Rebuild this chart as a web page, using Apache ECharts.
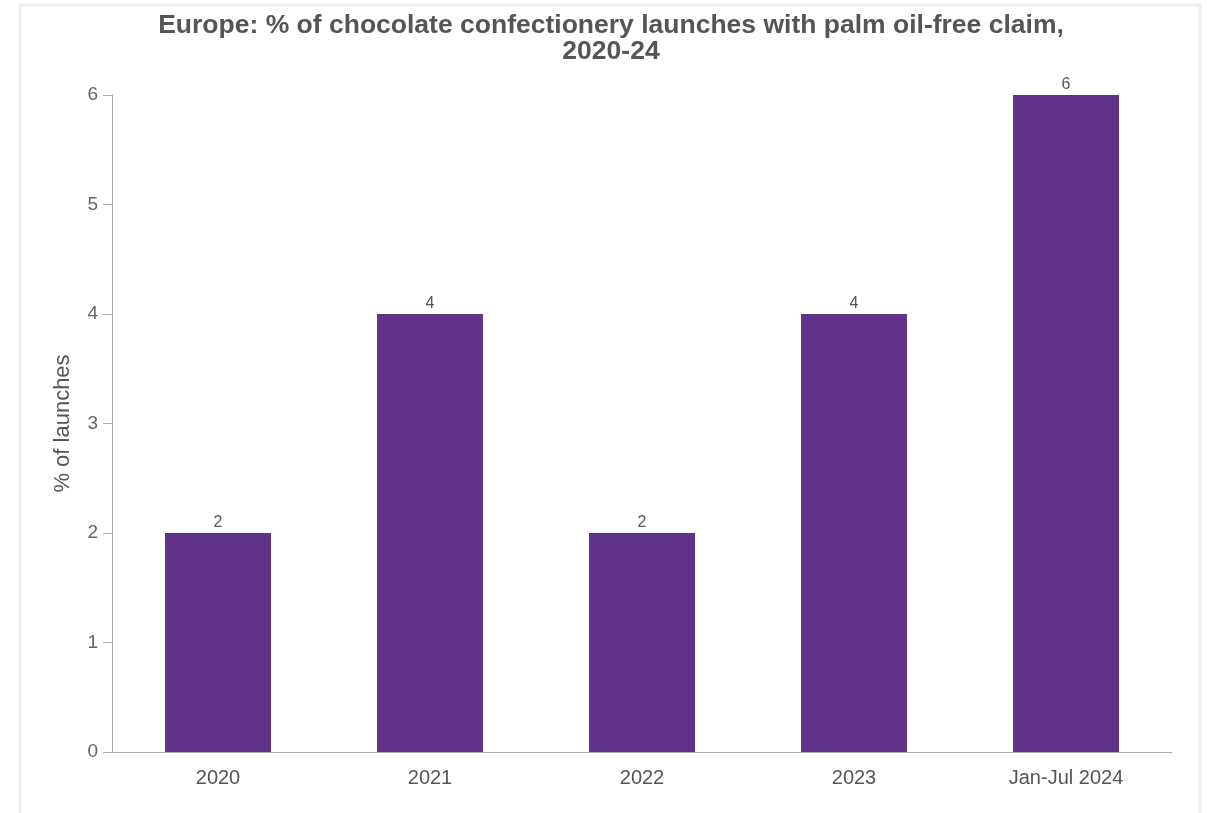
<!DOCTYPE html>
<html>
<head>
<meta charset="utf-8">
<title>Palm oil-free claim</title>
<script src="https://cdn.jsdelivr.net/npm/echarts@6/dist/echarts.min.js"></script>
<style>
  html, body { margin: 0; padding: 0; background: #fff; }
  #chart { width: 1207px; height: 813px; }
</style>
</head>
<body>
<div id="chart"></div>
<script>
const categories = ['2020', '2021', '2022', '2023', 'Jan-Jul 2024']
const launchShare = [2, 4, 2, 4, 6]
const yTicks = [0, 1, 2, 3, 4, 5, 6]

const textColor = '#555'
const axisColor = '#aaa'
const font = 'Arial, Liberation Sans, sans-serif'

const chart = echarts.init(document.getElementById('chart'))

chart.setOption({
  animation: false,
  title: {
    text: 'Europe: % of chocolate confectionery launches with palm oil-free claim,\n2020-24',
    left: 606,
    top: 8,
    textAlign: 'center',
    textStyle: {
      fontFamily: font,
      fontSize: 26.5,
      fontWeight: 'bold',
      color: textColor,
      lineHeight: 26
    }
  },
  graphic: [{
    type: 'rect',
    shape: { x: 20, y: 5, width: 1180, height: 830 },
    style: { fill: 'none', stroke: '#eee', lineWidth: 3 },
    silent: true
  }],
  grid: {
    left: 112,
    right: 35,
    top: 95,
    bottom: 61
  },
  xAxis: {
    type: 'category',
    data: categories,
    axisLine: { lineStyle: { color: axisColor } },
    axisTick: { length: 8, lineStyle: { color: axisColor } },
    axisLabel: {
      color: textColor,
      fontSize: 20,
      fontFamily: font,
      margin: 16
    }
  },
  yAxis: {
    type: 'value',
    min: yTicks[0],
    max: yTicks[yTicks.length - 1],
    interval: 1,
    name: '% of launches',
    nameLocation: 'middle',
    nameGap: 38,
    nameTextStyle: {
      color: textColor,
      fontSize: 22,
      fontFamily: font
    },
    axisLine: { show: true, lineStyle: { color: axisColor } },
    axisTick: { show: true, length: 9, lineStyle: { color: axisColor } },
    splitLine: { show: false },
    axisLabel: {
      color: '#666',
      fontSize: 19,
      fontFamily: font,
      margin: 14
    }
  },
  series: [{
    type: 'bar',
    data: launchShare,
    barWidth: '50%',
    itemStyle: { color: '#5f3389' },
    label: {
      show: true,
      position: 'top',
      distance: 2,
      color: textColor,
      fontSize: 16,
      fontFamily: font
    }
  }]
})
</script>
</body>
</html>
